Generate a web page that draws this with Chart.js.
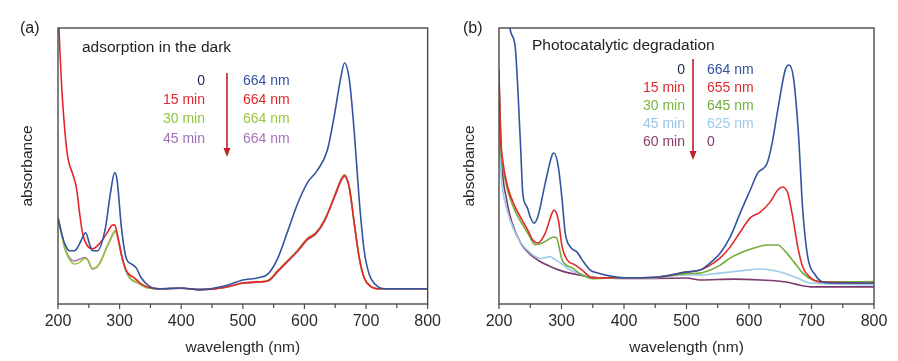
<!DOCTYPE html>
<html><head><meta charset="utf-8">
<script src="https://cdn.jsdelivr.net/npm/chart.js@4/dist/chart.umd.min.js"></script>
<style>
html,body{margin:0;padding:0;background:#fff;width:898px;height:361px;overflow:hidden}
.p{position:absolute;top:0;width:449px;height:361px}
canvas{display:block}
</style></head><body>
<div class="p" style="left:0"><canvas id="ca" width="449" height="361"></canvas></div>
<div class="p" style="left:449px"><canvas id="cb" width="449" height="361"></canvas></div>
<script>
// ---------- tick labels ----------
const xTicks = [200, 300, 400, 500, 600, 700, 800];
const xMinorTicks = [250, 350, 450, 550, 650, 750];

// ---------- panel (a): adsorption in the dark ----------
const aBlueWl = [200,206,211,219,227,235,243,245,251,256,264,277,285,292,296,303,311,319,327,335,348,362,400,430,470,500,525,541,557,573,589,605,621,637,648,659,665,673,681,689,697,705,718,734,800];
const aBlueVal = [0.313,0.255,0.218,0.193,0.193,0.218,0.255,0.258,0.218,0.193,0.193,0.276,0.40,0.476,0.447,0.276,0.164,0.145,0.131,0.095,0.065,0.055,0.058,0.052,0.065,0.087,0.095,0.109,0.167,0.265,0.364,0.44,0.484,0.556,0.676,0.82,0.873,0.81,0.62,0.375,0.193,0.109,0.065,0.055,0.055];

const aRedWl = [200,203,206,211,216,224,230,235,240,248,256,267,279,287,292,296,303,311,324,335,351,370,400,430,470,500,525,541,557,573,589,605,618,632,648,659,665,673,681,689,697,707,723,800];
const aRedVal = [1.1,0.92,0.785,0.63,0.53,0.47,0.42,0.33,0.255,0.21,0.20,0.218,0.255,0.284,0.287,0.255,0.18,0.12,0.095,0.073,0.058,0.055,0.057,0.052,0.06,0.076,0.08,0.084,0.12,0.156,0.193,0.236,0.255,0.30,0.385,0.447,0.465,0.42,0.29,0.167,0.095,0.065,0.055,0.055];

const aOtherWl = [200,206,211,219,227,235,243,248,256,267,279,290,293,298,305,316,330,346,370,400,430,470,500,525,541,557,573,589,605,618,632,648,659,665,673,681,689,697,707,723,800];
const aGreenVal = [0.31,0.25,0.2,0.16,0.145,0.15,0.165,0.16,0.128,0.145,0.205,0.258,0.265,0.232,0.158,0.097,0.077,0.058,0.055,0.057,0.052,0.06,0.076,0.08,0.086,0.122,0.158,0.195,0.238,0.258,0.302,0.387,0.45,0.468,0.422,0.29,0.167,0.095,0.065,0.055,0.055];
const aPurpleVal = [0.313,0.255,0.204,0.167,0.156,0.162,0.168,0.162,0.127,0.145,0.204,0.255,0.265,0.23,0.156,0.095,0.076,0.058,0.055,0.057,0.052,0.06,0.075,0.079,0.083,0.118,0.154,0.19,0.232,0.252,0.297,0.382,0.443,0.462,0.418,0.288,0.165,0.094,0.064,0.055,0.055];

// ---------- panel (b): photocatalytic degradation ----------
const bBlueWl = [200,210,218,226,230,235,238,245,250,256,262,274,285,288,295,301,306,314,325,333,346,358,380,400,450,500,522,538,554,570,586,602,614,629,637,646,658,664,671,679,686,694,706,718,734,800];
const bBlueVal = [1.3,1.15,0.993,0.93,0.786,0.547,0.402,0.351,0.315,0.293,0.315,0.438,0.54,0.547,0.496,0.377,0.257,0.207,0.188,0.16,0.123,0.112,0.1,0.095,0.097,0.116,0.123,0.149,0.185,0.243,0.33,0.413,0.475,0.51,0.583,0.703,0.848,0.866,0.822,0.62,0.34,0.17,0.105,0.08,0.076,0.076];

const bRedWl = [200,202,206,214,226,237,246,254,262,274,285,288,295,301,309,322,333,346,358,380,400,450,500,522,538,554,570,586,602,618,634,646,654,662,670,678,686,697,714,800];
const bRedVal = [0.85,0.63,0.52,0.424,0.351,0.304,0.268,0.232,0.221,0.257,0.33,0.34,0.304,0.207,0.16,0.141,0.123,0.098,0.094,0.095,0.095,0.097,0.116,0.123,0.141,0.167,0.207,0.261,0.312,0.333,0.37,0.413,0.424,0.402,0.315,0.207,0.134,0.098,0.08,0.076];

const bGreenWl = [200,202,206,214,226,237,246,258,268,278,287,292,301,318,333,350,380,400,450,500,522,538,554,570,586,608,629,646,659,673,686,702,723,800];
const bGreenVal = [0.85,0.6,0.5,0.41,0.335,0.29,0.257,0.215,0.22,0.232,0.243,0.24,0.16,0.13,0.105,0.092,0.094,0.095,0.096,0.11,0.112,0.123,0.141,0.167,0.185,0.203,0.214,0.214,0.188,0.149,0.112,0.087,0.08,0.081];

const bLightWl = [200,204,213,224,234,250,266,275,282,290,298,314,336,363,400,450,500,522,554,586,618,650,677,698,800];
const bLightVal = [0.6,0.45,0.34,0.268,0.225,0.185,0.165,0.168,0.172,0.16,0.149,0.123,0.105,0.094,0.093,0.095,0.105,0.105,0.112,0.12,0.127,0.116,0.094,0.076,0.07];

const bPurpleWl = [200,205,212,220,235,250,265,280,300,330,360,400,450,500,522,576,618,659,680,702,800];
const bPurpleVal = [0.8,0.5,0.38,0.3,0.22,0.18,0.155,0.138,0.12,0.104,0.095,0.093,0.093,0.094,0.087,0.09,0.087,0.08,0.069,0.062,0.062];

// ---------- legend texts ----------
const aTimes = ['0', '15 min', '30 min', '45 min'];
const aPeaks = ['664 nm', '664 nm', '664 nm', '664 nm'];
const bTimes = ['0', '15 min', '30 min', '45 min', '60 min'];
const bPeaks = ['664 nm', '655 nm', '645 nm', '625 nm', '0'];

// ---------- styling ----------
const FONT = '"Liberation Sans", Arial, Helvetica, sans-serif';
const aColors = ['#34539f', '#e2262c', '#98c83c', '#a576b8'];
const aTimeColors = ['#1c2850', '#e2262c', '#8dc63f', '#a070b8'];
const bColors = ['#34539f', '#e02a2a', '#74ad3c', '#9ccbea', '#7e3a6e'];
const bTimeColors = ['#1c2850', '#e02a2a', '#7ab53f', '#9cc3e6', '#8a3e70'];

function pts(wl, val) { return wl.map((w, i) => ({ x: w, y: val[i] })); }
function ds(wl, val, color) {
  return { data: pts(wl, val), borderColor: color, borderWidth: 1.6, pointRadius: 0,
           fill: false, cubicInterpolationMode: 'monotone' };
}

function makePlugin(cfg) {
  return {
    id: 'deco',
    afterDraw(chart) {
      const ctx = chart.ctx, a = chart.chartArea, xs = chart.scales.x;
      ctx.save();
      // frame
      ctx.strokeStyle = '#4a4a4a'; ctx.lineWidth = 1.4;
      ctx.strokeRect(a.left, a.top, a.right - a.left, a.bottom - a.top);
      // ticks (outward)
      ctx.lineWidth = 1.2;
      ctx.beginPath();
      xTicks.forEach(v => { const x = xs.getPixelForValue(v); ctx.moveTo(x, a.bottom); ctx.lineTo(x, a.bottom + 5); });
      xMinorTicks.forEach(v => { const x = xs.getPixelForValue(v); ctx.moveTo(x, a.bottom); ctx.lineTo(x, a.bottom + 4); });
      ctx.stroke();
      // axis titles
      ctx.fillStyle = '#2a2a2a';
      ctx.font = '15.5px ' + FONT;
      ctx.textAlign = 'center'; ctx.textBaseline = 'middle';
      ctx.fillText('wavelength (nm)', (a.left + a.right) / 2, 348);
      ctx.save();
      ctx.translate(cfg.yTitleX, 166); ctx.rotate(-Math.PI / 2);
      ctx.fillText('absorbance', 0, 0);
      ctx.restore();
      // panel label
      ctx.textAlign = 'left';
      ctx.font = '16px ' + FONT;
      ctx.fillStyle = '#222';
      ctx.fillText(cfg.label, cfg.labelX, 29);
      // title
      ctx.font = '15.5px ' + FONT;
      ctx.fillStyle = '#222';
      ctx.fillText(cfg.title, cfg.titleX, cfg.titleY);
      // legend
      ctx.font = '14px ' + FONT;
      cfg.times.forEach((t, i) => {
        const y = cfg.rowY0 + i * cfg.rowDy;
        ctx.textAlign = 'right'; ctx.fillStyle = cfg.timeColors[i];
        ctx.fillText(t, cfg.colL, y);
        ctx.textAlign = 'left'; ctx.fillStyle = cfg.peakColors[i];
        ctx.fillText(cfg.peaks[i], cfg.colR, y);
      });
      // arrow
      ctx.strokeStyle = '#c0202c'; ctx.fillStyle = '#c0202c'; ctx.lineWidth = 1.6;
      ctx.beginPath(); ctx.moveTo(cfg.arrowX, cfg.arrowY0); ctx.lineTo(cfg.arrowX, cfg.arrowY1 - 6); ctx.stroke();
      ctx.beginPath();
      ctx.moveTo(cfg.arrowX - 3.5, cfg.arrowY1 - 9);
      ctx.lineTo(cfg.arrowX + 3.5, cfg.arrowY1 - 9);
      ctx.lineTo(cfg.arrowX, cfg.arrowY1);
      ctx.closePath(); ctx.fill();
      ctx.restore();
    }
  };
}

function makeChart(id, datasets, padL, padR, cfg) {
  return new Chart(document.getElementById(id), {
    type: 'line',
    data: { datasets },
    options: {
      responsive: false, animation: false,
      layout: { padding: { left: padL, right: padR, top: 28, bottom: 0 } },
      plugins: { legend: { display: false }, tooltip: { enabled: false } },
      scales: {
        x: {
          type: 'linear', min: 200, max: 800,
          afterBuildTicks: s => { s.ticks = xTicks.map(v => ({ value: v })); },
          afterFit: s => { s.height = 57; },
          grid: { display: false, drawTicks: false },
          border: { display: false },
          ticks: { color: '#2a2a2a', font: { size: 16, family: FONT }, padding: 8, maxRotation: 0 }
        },
        y: { display: false, min: 0, max: 1 }
      }
    },
    plugins: [makePlugin(cfg)]
  });
}

makeChart('ca', [
  ds(aBlueWl, aBlueVal, aColors[0]),
  ds(aRedWl, aRedVal, aColors[1]),
  ds(aOtherWl, aGreenVal, aColors[2]),
  ds(aOtherWl, aPurpleVal, aColors[3])
], 58, 17, {
  label: '(a)', labelX: 20, title: 'adsorption in the dark', titleX: 82, titleY: 48,
  yTitleX: 28, times: aTimes, peaks: aPeaks, timeColors: aTimeColors, peakColors: aColors,
  colL: 205, colR: 243, rowY0: 81, rowDy: 19.3, arrowX: 227, arrowY0: 73, arrowY1: 157
});

makeChart('cb', [
  ds(bBlueWl, bBlueVal, bColors[0]),
  ds(bRedWl, bRedVal, bColors[1]),
  ds(bGreenWl, bGreenVal, bColors[2]),
  ds(bLightWl, bLightVal, bColors[3]),
  ds(bPurpleWl, bPurpleVal, bColors[4])
], 50, 24, {
  label: '(b)', labelX: 14, title: 'Photocatalytic degradation', titleX: 83, titleY: 46,
  yTitleX: 21, times: bTimes, peaks: bPeaks, timeColors: bTimeColors, peakColors: bColors,
  colL: 236, colR: 258, rowY0: 70.5, rowDy: 18, arrowX: 244, arrowY0: 59, arrowY1: 160
});
</script>
</body></html>
